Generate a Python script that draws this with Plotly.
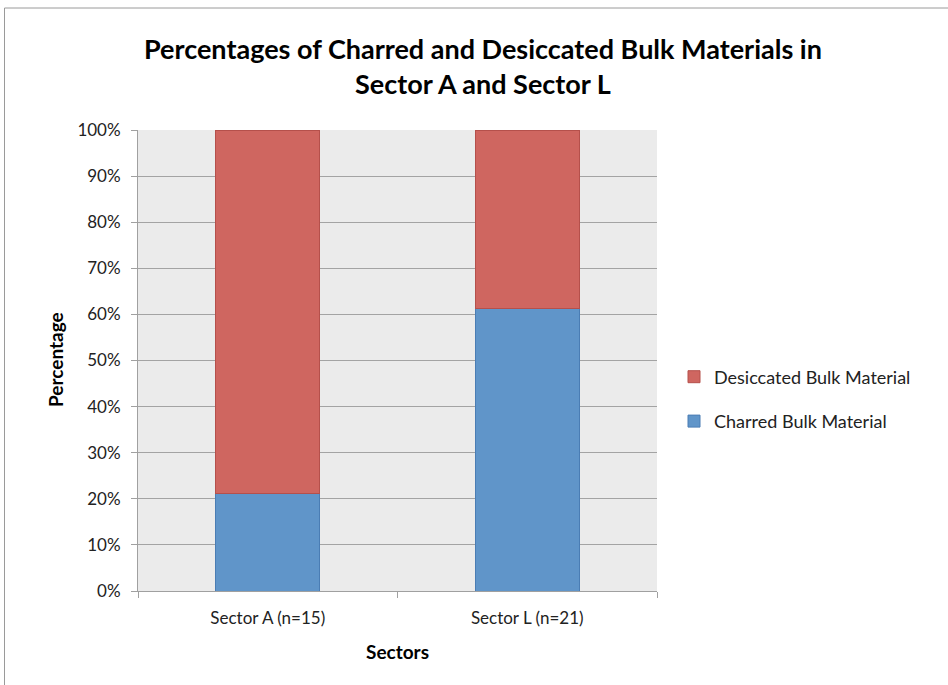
import plotly.graph_objects as go

categories = ["Sector A (n=15)", "Sector L (n=21)"]
charred = [21.2, 61.2]
desiccated = [78.8, 38.8]
y_ticks = [0, 10, 20, 30, 40, 50, 60, 70, 80, 90, 100]

FONT = "Lato"
W, H = 948, 685
L, R, T, B = 138, 657, 130, 591

fig = go.Figure()
fig.add_trace(go.Bar(
    x=categories, y=charred, name="Charred Bulk Material",
    marker=dict(color="#6095C9", line=dict(color="#4A7DB4", width=1)),
    legendgroup="c", legendrank=2,
))
fig.add_trace(go.Bar(
    x=categories, y=desiccated, name="Desiccated Bulk Material",
    marker=dict(color="#CF6660", line=dict(color="#B5504B", width=1)),
    legendgroup="d", legendrank=1,
))

def px_x(p):
    return (p - L) / (R - L)

def px_y(p):
    return (B - p) / (B - T)

fig.update_layout(
    width=W, height=H,
    margin=dict(l=L, r=W - R, t=T, b=H - B, pad=0),
    barmode="stack",
    bargap=0.6,
    paper_bgcolor="white",
    plot_bgcolor="#EBEBEB",
    font=dict(family=FONT, size=17, color="#222222"),
    legend=dict(
        x=px_x(674), xanchor="left",
        y=px_y(399), yanchor="middle",
        traceorder="grouped",
        tracegroupgap=18,
        font=dict(family=FONT, size=18, color="#222222"),
        bgcolor="rgba(0,0,0,0)",
    ),
    xaxis=dict(
        type="category",
        tickson="boundaries",
        ticks="outside", ticklen=6, tickcolor="#A0A0A0",
        showgrid=False,
        showline=True, linecolor="#A0A0A0", linewidth=1,
        ticklabelstandoff=12,
        tickfont=dict(family=FONT, size=17, color="#222222"),
    ),
    yaxis=dict(
        range=[0, 100],
        tickvals=y_ticks,
        ticktext=[f"{v}%" for v in y_ticks],
        ticks="outside", ticklen=6, tickcolor="#A0A0A0",
        showgrid=True, gridcolor="#A3A3A3", gridwidth=1,
        showline=True, linecolor="#A0A0A0", linewidth=1,
        zeroline=False,
        ticklabelstandoff=7,
        tickfont=dict(family=FONT, size=17, color="#222222"),
    ),
    annotations=[
        dict(
            text="<b>Percentages of Charred and Desiccated Bulk Materials in<br>Sector A and Sector L</b>",
            xref="paper", yref="paper", x=px_x(483), y=px_y(66),
            xanchor="center", yanchor="middle", showarrow=False,
            font=dict(family=FONT, size=27, color="black"),
        ),
        dict(
            text="<b>Sectors</b>",
            xref="paper", yref="paper", x=0.5, y=px_y(651),
            xanchor="center", yanchor="middle", showarrow=False,
            font=dict(family=FONT, size=19, color="black"),
        ),
        dict(
            text="<b>Percentage</b>", textangle=-90,
            xref="paper", yref="paper", x=px_x(55), y=px_y(360),
            xanchor="center", yanchor="middle", showarrow=False,
            font=dict(family=FONT, size=19, color="black"),
        ),
    ],
    shapes=[dict(
        type="rect", xref="paper", yref="paper",
        x0=px_x(4.5), x1=px_x(1000), y0=px_y(800), y1=px_y(8),
        line=dict(color="#9A9A9A", width=1), fillcolor="rgba(0,0,0,0)",
        layer="below",
    )],
)

fig.write_html("out.html")
